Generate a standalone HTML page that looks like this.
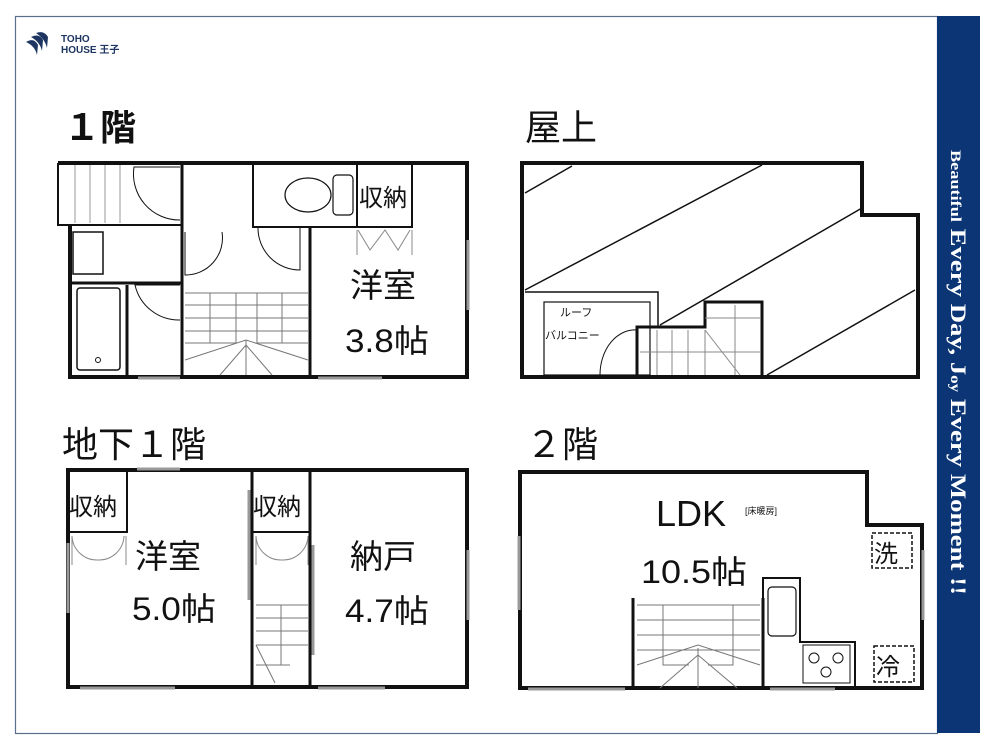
<!DOCTYPE html>
<html><head><meta charset="utf-8"><style>
body{margin:0;background:#fff;}
svg{display:block;}
.j{font-family:"Liberation Sans","Noto Sans CJK JP",sans-serif;fill:#111;}
</style></head><body>
<svg width="1000" height="750" viewBox="0 0 1000 750" xmlns="http://www.w3.org/2000/svg">
<rect x="15.5" y="16.5" width="922" height="717" fill="none" stroke="#5a6f8c" stroke-width="1.2"/>
<rect x="937" y="16" width="43" height="717" fill="#0b3575"/>
<text transform="translate(951,150) rotate(90)" font-family="Liberation Serif,serif" font-weight="bold" fill="#fff" font-size="22" textLength="445" lengthAdjust="spacingAndGlyphs"><tspan font-size="15">Beautiful</tspan>  Every Day, J<tspan font-size="14">oy</tspan> Every Moment !!</text>
<!-- logo -->
<g fill="#1d3560"><path d="M26 42 q8-5 12 3 l-1 10 q-2-9-11-13z"/><path d="M31 37 q8-4 12 3 l-1 11 q-2-9-11-14z"/><path d="M36 33 q8-3 12 4 l-1 11 q-2-9-11-15z"/></g>
<text x="61" y="42" font-family="Liberation Sans,sans-serif" font-size="10" fill="#1d3560" font-weight="bold">TOHO</text>
<text x="61" y="53" font-family="Liberation Sans,'Noto Sans CJK JP',sans-serif" font-size="10" fill="#1d3560" font-weight="bold">HOUSE 王子</text>

<!-- titles -->
<text class="j" x="64" y="140" font-size="36" font-weight="bold">１階</text>
<text class="j" x="525" y="140" font-size="36">屋上</text>
<text class="j" x="62" y="457" font-size="36">地下１階</text>
<text class="j" x="526" y="457" font-size="36">２階</text>

<g fill="none" stroke="#111">
<!-- ===== 1F ===== -->
<path d="M58 163H467V377H70V225" stroke-width="4"/>
<path d="M58 163V225H182" stroke-width="2"/>
<g stroke="#999" stroke-width="1"><path d="M75 165V223M90 165V223M105 165V223M120 165V223"/></g>
<path d="M182 163V377M70 283H182M127 285V377" stroke-width="3"/>
<path d="M180 167H134 A46 46 0 0 0 180 220" stroke-width="1"/>
<rect x="73" y="232" width="30" height="42" stroke-width="1.5"/>
<rect x="77" y="288" width="43" height="82" rx="3" stroke-width="1.5"/>
<circle cx="98" cy="360" r="2.5"/>
<path d="M180 285H135 A45 45 0 0 0 180 320" stroke-width="1"/>
<path d="M253 163V227H412V163M357 163V227" stroke-width="2"/>
<ellipse cx="308" cy="195" rx="23" ry="17" stroke-width="1.2"/>
<rect x="333" y="175" width="20" height="40" rx="4" stroke-width="1.2"/>
<path d="M185 232V275A37 37 0 0 0 222 232" stroke-width="1"/>
<path d="M300 227V270A42 42 0 0 1 258 227" stroke-width="1"/>
<path d="M310 227V377" stroke-width="3"/>
<path d="M357 230V255M412 230V255M358 230L370 250L385 230L398 250L410 230" stroke="#888" stroke-width="1"/>
<g stroke="#777" stroke-width="1"><path d="M185 293H308M185 305H308M185 318H308M185 331H308M185 343H236M257 343H308M210 293V343M282 293V343M236 293V343M257 293V343M246 340V375M185 360L246 340L308 360M220 375L246 345L272 375"/></g>
<g stroke="#999" stroke-width="3"><path d="M138 378H180M318 378H382M468 240V310"/></g>

<!-- ===== Rooftop ===== -->
<path d="M522 163H862V215H918V377H522Z" stroke-width="4"/>
<g stroke-width="1.5"><path d="M525 193L572 166M525 290L762 165M660 325L862 208M767 375L915 290"/></g>
<path d="M525 292H658V327" stroke-width="1.5"/>
<rect x="544" y="302" width="106" height="73" stroke-width="1.2"/>
<path d="M637 377V327H705V302H762V377" stroke-width="3"/>
<g stroke="#888" stroke-width="1"><path d="M657 330V375M672 330V375M688 330V375M705 330V375M640 352H760M705 318H760M735 305V375M705 330L740 375"/></g>
<path d="M637 330A35 45 0 0 0 600 375" stroke-width="1"/>
<text class="j" x="560" y="316" font-size="11" stroke="none">ルーフ</text>
<text class="j" x="545" y="339" font-size="11" stroke="none">バルコニー</text>

<!-- ===== B1 ===== -->
<path d="M68 470H467V687H68Z" stroke-width="4"/>
<path d="M252 470V687M310 470V687" stroke-width="3"/>
<path d="M68 532H127V470M252 532H310" stroke-width="2"/>
<path d="M72 536V565M126 536V565M72 536A25 25 0 0 0 98 560A25 25 0 0 0 124 536M256 536V565M308 536V565M256 536A25 25 0 0 0 282 560A25 25 0 0 0 308 536" stroke="#888" stroke-width="1"/>
<g stroke="#777" stroke-width="1"><path d="M256 605H308M256 618H308M256 631H308M256 645H308M281 605V665H256M256 645L275 683M256 665H290"/></g>
<g stroke="#999" stroke-width="3"><path d="M137 469H180M68 543V613M80 688H175M318 688H385M468 550V620M249 490V600M313 545V655"/></g>

<!-- ===== 2F ===== -->
<path d="M520 472H867V525H922V688H520Z" stroke-width="4"/>
<path d="M633 598V688M763 598V688" stroke-width="3"/>
<path d="M763 688V578H800V642H855V688" stroke-width="2"/>
<rect x="768" y="587" width="28" height="49" rx="4" stroke-width="1.2"/>
<rect x="803" y="645" width="47" height="38" stroke-width="1"/>
<circle cx="814" cy="658" r="5"/><circle cx="838" cy="658" r="5"/><circle cx="826" cy="672" r="5"/>
<g stroke="#777" stroke-width="1"><path d="M637 605H760M637 620H760M637 635H760M637 650H760M663 605V665H689M733 605V665H708M698 648V688M637 665L698 645L760 665M660 688L698 655L737 688"/></g>
<rect x="872" y="533" width="40" height="35" stroke-dasharray="4 2" stroke-width="1.5"/>
<rect x="874" y="646" width="40" height="36" stroke-dasharray="4 2" stroke-width="1.5"/>
<g stroke="#999" stroke-width="3"><path d="M519 536V610M528 689H625M770 689H835M923 550V620"/></g>
</g>

<!-- labels -->
<text class="j" x="350" y="297" font-size="33">洋室</text>
<text class="j" x="345" y="352" font-size="32" textLength="84" lengthAdjust="spacingAndGlyphs">3.8帖</text>
<text class="j" x="359" y="206" font-size="24">収納</text>
<text class="j" x="69" y="515" font-size="24">収納</text>
<text class="j" x="253" y="515" font-size="24">収納</text>
<text class="j" x="135" y="568" font-size="33">洋室</text>
<text class="j" x="132" y="620" font-size="32" textLength="84" lengthAdjust="spacingAndGlyphs">5.0帖</text>
<text class="j" x="350" y="568" font-size="33">納戸</text>
<text class="j" x="345" y="622" font-size="32" textLength="84" lengthAdjust="spacingAndGlyphs">4.7帖</text>
<text class="j" x="656" y="526" font-size="36">LDK</text>
<text class="j" x="745" y="514" font-size="9">[床暖房]</text>
<text class="j" x="641" y="583" font-size="32" textLength="106" lengthAdjust="spacingAndGlyphs">10.5帖</text>
<text class="j" x="874" y="562" font-size="24">洗</text>
<text class="j" x="876" y="675" font-size="24">冷</text>
</svg>
</body></html>
